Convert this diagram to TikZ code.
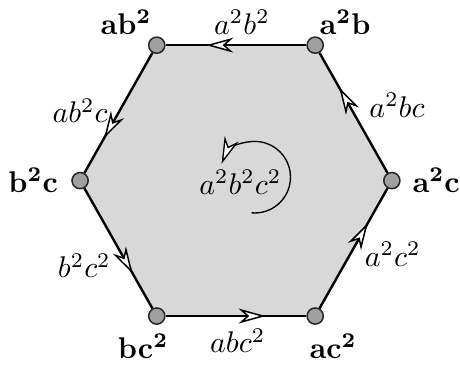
\documentclass[tikz,border=0pt]{standalone}
\usepackage{tikz}
\usetikzlibrary{arrows.meta,decorations.markings,backgrounds}
\definecolor{HexFill}{HTML}{D8D8D8}
\definecolor{VertFill}{HTML}{A0A0A0}
\tikzset{
  vert/.style={circle,draw=black!85,fill=VertFill,line width=0.5pt,minimum size=0.19cm,inner sep=0pt},
  hexedge/.style={line width=0.8pt,postaction={decorate},
    decoration={markings,mark=at position 0.71 with {\arrow{Stealth[length=9pt,width=5pt,inset=2.8pt,fill=white,line width=0.5pt]}}}},
  vlabel/.style={inner sep=0pt},
  elabel/.style={inner sep=0pt},
}

\begin{document}
\begin{tikzpicture}[x=1cm,y=1cm]
\path[use as bounding box] (0,0) rectangle (5.40,4.29);
% corners
\node[vert] (ab2) at (1.84,3.76) {};
\node[vert] (a2b) at (3.70,3.76) {};
\node[vert] (a2c) at (4.60,2.17) {};
\node[vert] (ac2) at (3.70,0.58) {};
\node[vert] (bc2) at (1.84,0.58) {};
\node[vert] (b2c) at (0.94,2.17) {};
\begin{scope}[on background layer]
\fill[HexFill] (ab2.center) -- (a2b.center) -- (a2c.center) -- (ac2.center) -- (bc2.center) -- (b2c.center) -- cycle;
\end{scope}
% sides
\draw[hexedge] (a2b) -- (ab2);
\draw[hexedge] (ab2) -- (b2c);
\draw[hexedge] (b2c) -- (bc2);
\draw[hexedge] (bc2) -- (ac2);
\draw[hexedge] (ac2) -- (a2c);
\draw[hexedge] (a2c) -- (a2b);
% corner names
\node[vlabel] (lab2) at (1.48,4.03) {$\mathbf{ab^2}$};
\node[vlabel] (la2b) at (4.05,4.03) {$\mathbf{a^2b}$};
\node[vlabel] (la2c) at (5.12,2.17) {$\mathbf{a^2c}$};
\node[vlabel] (lac2) at (3.91,0.23) {$\mathbf{ac^2}$};
\node[vlabel] (lbc2) at (1.68,0.23) {$\mathbf{bc^2}$};
\node[vlabel] (lb2c) at (0.39,2.17) {$\mathbf{b^2c}$};
% side names
\node[elabel] (ta2b2) at (2.84,4.03) {$a^2b^2$};
\node[elabel] (tab2c) at (0.94,2.99) {$ab^2c$};
\node[elabel] (ta2bc) at (4.66,3.05) {$a^2bc$};
\node[elabel] (ta2c2) at (4.61,1.31) {$a^2c^2$};
\node[elabel] (tabc2) at (2.79,0.29) {$abc^2$};
\node[elabel] (tb2c2) at (0.99,1.17) {$b^2c^2$};
% face
\node[elabel] (face) at (2.82,2.15) {$a^2b^2c^2$};
\draw[line width=0.45pt,-{Stealth[length=9pt,width=5pt,inset=2.8pt,fill=white,line width=0.45pt]}]
  (2.99,2.21) ++(-95:0.42) arc[start angle=-95,end angle=158,radius=0.42];
\end{tikzpicture}
\end{document}
